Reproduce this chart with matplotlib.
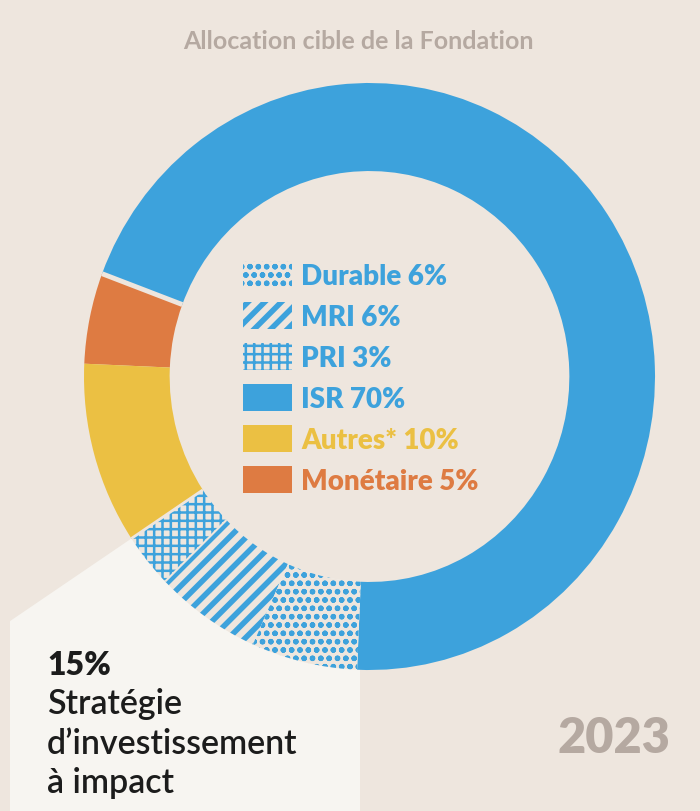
import numpy as np
import matplotlib.pyplot as plt
from matplotlib.patches import Rectangle, Polygon, Circle

# slices, counter-clockwise starting at the bottom of the ring
names = ["ISR", "Monétaire", "Autres", "PRI", "MRI", "Durable"]
shares = [70, 5, 10, 3, 6, 6]
legend_order = ["Durable", "MRI", "PRI", "ISR", "Autres", "Monétaire"]
legend_names = {"Autres": "Autres*"}
impact_names = ["PRI", "MRI", "Durable"]

title = "Allocation cible de la Fondation"
impact_lines = ["Stratégie", "d\u2019investissement", "à impact"]
year = "2023"

BG = "#EEE6DE"
LIGHT = "#F7F5F1"
BLUE = "#3DA2DC"
ORANGE = "#DE7B42"
YELLOW = "#EBC043"
GREY = "#B5A9A1"
DARK = "#1C1C1C"

colors = {"ISR": BLUE, "Monétaire": ORANGE, "Autres": YELLOW,
          "PRI": BLUE, "MRI": BLUE, "Durable": BLUE}
hatches = {"PRI": "++", "MRI": "//", "Durable": "oo"}
hatch_lw = {"PRI": 1.8, "MRI": 4.0, "Durable": 1.6}
gap_lw = [0, 3.5, 0, 2, 1.5, 0]  # separator drawn at the start of each slice

plt.rcParams["font.family"] = ["Lato", "DejaVu Sans"]
plt.rcParams["hatch.linewidth"] = 2.5

W, H = 700, 811
CX, CY, RX, RY = 369.5, 376.5, 285.5, 293.5
START = -92.5
INNER = 0.70

fig = plt.figure(figsize=(7, 8.11), dpi=100)
fig.patch.set_facecolor(BG)

# background layer (pixel coords, y down)
bg = fig.add_axes([0, 0, 1, 1], zorder=0)
bg.set_xlim(0, W); bg.set_ylim(H, 0); bg.axis("off")

bounds = START + np.cumsum([0] + shares) / sum(shares) * 360
a0 = np.radians(bounds[names.index(impact_names[0])])
a1 = np.radians(bounds[names.index(impact_names[-1]) + 1])
dx0, dy0 = RX * np.cos(a0), -RY * np.sin(a0)
t0 = (10 - CX) / dx0
x1 = CX + RX * np.cos(a1)
bg.add_patch(Polygon([(CX, CY), (10, CY + t0 * dy0), (10, H), (x1 + 3, H), (x1 + 3, CY)],
                     closed=True, fc=LIGHT, ec="none"))

# ring
pa = fig.add_axes([(CX - RX) / W, 1 - (CY + RY) / H, 2 * RX / W, 2 * RY / H], zorder=1)
wedges, _ = pa.pie(shares, colors=[colors[n] for n in names], startangle=START,
                   counterclock=True, radius=1,
                   wedgeprops=dict(width=1 - INNER, linewidth=0))
for w, n in zip(wedges, names):
    if n in hatches:
        w.set_facecolor(BG)
        w.set_edgecolor(BLUE)
        w.set_hatch(hatches[n])
        if hasattr(w, "set_hatch_linewidth"):
            w.set_hatch_linewidth(hatch_lw[n])
pa.add_patch(Circle((0, 0), INNER, fc=BG, ec="none", zorder=0))
for a, lw in zip(bounds[:-1], gap_lw):
    if lw:
        r = np.radians(a)
        pa.plot([INNER * np.cos(r), np.cos(r)], [INNER * np.sin(r), np.sin(r)],
                color=BG, lw=lw, solid_capstyle="butt")
pa.set_xlim(-1, 1); pa.set_ylim(-1, 1); pa.set_aspect("auto"); pa.axis("off")

# overlay: texts and legend
ov = fig.add_axes([0, 0, 1, 1], zorder=2)
ov.set_xlim(0, W); ov.set_ylim(H, 0); ov.axis("off")

ov.text(358, 49, title, ha="center", va="baseline", fontsize=18,
        fontweight="bold", color=GREY)

for k, n in enumerate(legend_order):
    i = names.index(n)
    yc = 274.5 + 40.9 * k
    rect = Rectangle((243, yc - 13.5), 49, 27, fc=colors[n], ec="none")
    if n in hatches:
        rect.set_facecolor(BG)
        rect.set_edgecolor(BLUE)
        rect.set_hatch(hatches[n])
        rect.set_linewidth(0)
        if hasattr(rect, "set_hatch_linewidth"):
            rect.set_hatch_linewidth(hatch_lw[n])
    ov.add_patch(rect)
    ov.text(301, yc + 10.5, f"{legend_names.get(n, n)} {shares[i]}%",
            ha="left", va="baseline", fontsize=20, fontweight="heavy",
            color=colors[n])

impact_total = sum(shares[names.index(n)] for n in impact_names)
ov.text(47, 675, f"{impact_total}%", ha="left", va="baseline", fontsize=23,
        fontweight="heavy", color=DARK)
for k, line in enumerate(impact_lines):
    ov.text(47, 714 + 39.5 * k, line, ha="left", va="baseline", fontsize=24.5,
            fontweight="semibold", color=DARK)

ov.text(670, 753, year, ha="right", va="baseline", fontsize=35,
        fontweight="heavy", color=GREY)

fig.savefig("out.png", dpi=100, facecolor=BG)
